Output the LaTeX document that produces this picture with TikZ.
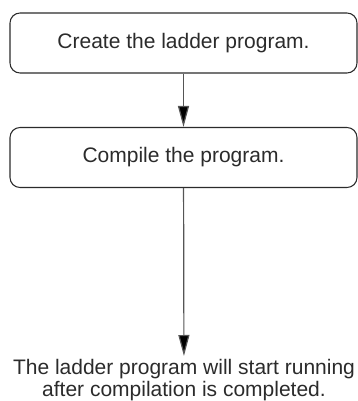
\documentclass[tikz,border=0pt]{standalone}
\usepackage{fontspec}
\setmainfont{Liberation Sans}
\usepackage{tikz}
\usetikzlibrary{arrows.meta}
\definecolor{inkgray}{HTML}{2B2B2B}
\definecolor{wiregray}{HTML}{555555}
\tikzset{
  proc/.style={draw=inkgray, line width=0.8pt, rounded corners=7.5pt, minimum width=260.25pt, minimum height=45pt, inner sep=0pt, font=\fontsize{15.75pt}{16.5pt}\selectfont, text=inkgray},
  flow/.style={draw=wiregray, line width=0.9pt, -{Triangle[length=15.75pt, width=8.25pt, fill=black]}},
  note/.style={inner sep=0pt, outer sep=2.25pt, align=center, font=\fontsize{15.75pt}{16.5pt}\selectfont, text=inkgray}
}
\begin{document}
\begin{tikzpicture}[x=0.75pt, y=0.75pt]
\useasboundingbox (0,0) rectangle (358,401);
\node[proc] (create) at (183.5,358) {Create the ladder program.};
\node[proc] (compile) at (183.5,243.5) {Compile the program.};
\node[note, anchor=north] (result) at (184,45) {The ladder program will start running\\after compilation is completed.};
\draw[flow] (create) -- (compile);
\draw[flow] (compile) -- (result);
\end{tikzpicture}
\end{document}
